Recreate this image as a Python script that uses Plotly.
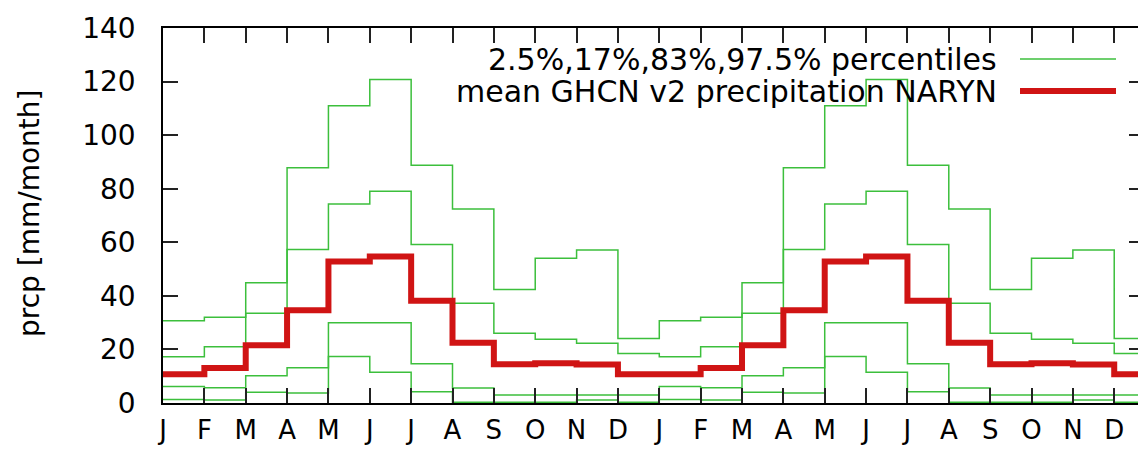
import plotly.graph_objects as go

# ---- data ----
months = ["J", "F", "M", "A", "M", "J", "J", "A", "S", "O", "N", "D"]
mean_prcp = [10.7, 13.1, 21.6, 34.6, 52.8, 54.7, 38.2, 22.5, 14.5, 14.8, 14.4, 10.7]
p975 = [30.7, 32.0, 44.9, 87.8, 111.0, 120.8, 88.8, 72.4, 42.4, 54.0, 57.1, 24.1]
p83 = [17.3, 21.0, 33.5, 57.3, 74.3, 79.1, 59.2, 37.2, 26.0, 23.8, 22.3, 18.5]
p17 = [6.2, 5.7, 10.2, 13.2, 30.0, 30.0, 14.7, 5.6, 3.0, 3.0, 3.0, 3.0]
p025 = [1.3, 1.1, 4.0, 3.7, 17.4, 11.5, 4.2, 0.3, 0.3, 0.3, 1.1, 0.3]
y_ticks = [0, 20, 40, 60, 80, 100, 120, 140]
legend_pct = "2.5%,17%,83%,97.5% percentiles"
legend_mean = "mean GHCN v2 precipitation NARYN"
y_title = "prcp [mm/month]"

# two years shown, plus the first month again so the last step extends
n_years = 2
x = list(range(12 * n_years + 1))


def cycle(vals):
    return (vals * (n_years + 1))[: len(x)]


FONT = "DejaVu Sans"
GREEN = "#3cbf3c"
RED = "#d01414"

fig = go.Figure()
for vals in (p975, p83, p17, p025):
    fig.add_trace(go.Scatter(x=x, y=cycle(vals), mode="lines", line_shape="hv",
                             line=dict(color=GREEN, width=1.5), showlegend=False,
                             hoverinfo="skip"))
fig.add_trace(go.Scatter(x=x, y=cycle(mean_prcp), mode="lines", line_shape="hv",
                         line=dict(color=RED, width=6), showlegend=False,
                         hoverinfo="skip"))

# page body has an 8px margin; figure is sized so that it ends at the window edge
OFF = 8
W, H = 1146 - OFF, 450 - OFF
PL, PR, PT, PB = 163, 1144, 28, 403   # plot box in window pixels
pw, ph = PR - PL, PB - PT


def px(xp):
    return (xp - PL) / pw


def py(yp):
    return (PB - yp) / ph


# legend (text then sample line, gnuplot-style)
rows = [(legend_pct, GREEN, 1.5, 59), (legend_mean, RED, 6, 91)]
for text, col, w, yy in rows:
    fig.add_annotation(text=text, xref="paper", yref="paper", x=px(999), y=py(yy),
                       xanchor="right", yanchor="middle", showarrow=False,
                       font=dict(family=FONT, size=30, color="black"))
    fig.add_shape(type="line", xref="paper", yref="paper", x0=px(1020), x1=px(1116),
                  y0=py(yy), y1=py(yy), line=dict(color=col, width=w))

fig.add_annotation(text=y_title, xref="paper", yref="paper", x=px(29), y=py(214),
                   xanchor="center", yanchor="middle", textangle=-90, showarrow=False,
                   font=dict(family=FONT, size=28, color="black"))

axis_common = dict(showline=True, linecolor="black", linewidth=1.5, mirror="ticks",
                   ticks="inside", ticklen=15, tickwidth=1.5, tickcolor="#222222",
                   showgrid=False, zeroline=False, automargin=False)

fig.update_layout(
    width=W, height=H,
    margin=dict(l=PL - OFF, r=1146 - PR, t=PT - OFF, b=450 - PB, autoexpand=False),
    paper_bgcolor="white", plot_bgcolor="white",
    xaxis=dict(range=[0, 23.72], tickvals=x[:-1], ticktext=months * n_years,
               ticklabelstandoff=3,
               tickfont=dict(family=FONT, size=26, color="black"), **axis_common),
    yaxis=dict(range=[0, 140], tickvals=y_ticks, ticklabelstandoff=20,
               tickfont=dict(family=FONT, size=28, color="black"), **axis_common),
)

fig.write_html("out.html")
